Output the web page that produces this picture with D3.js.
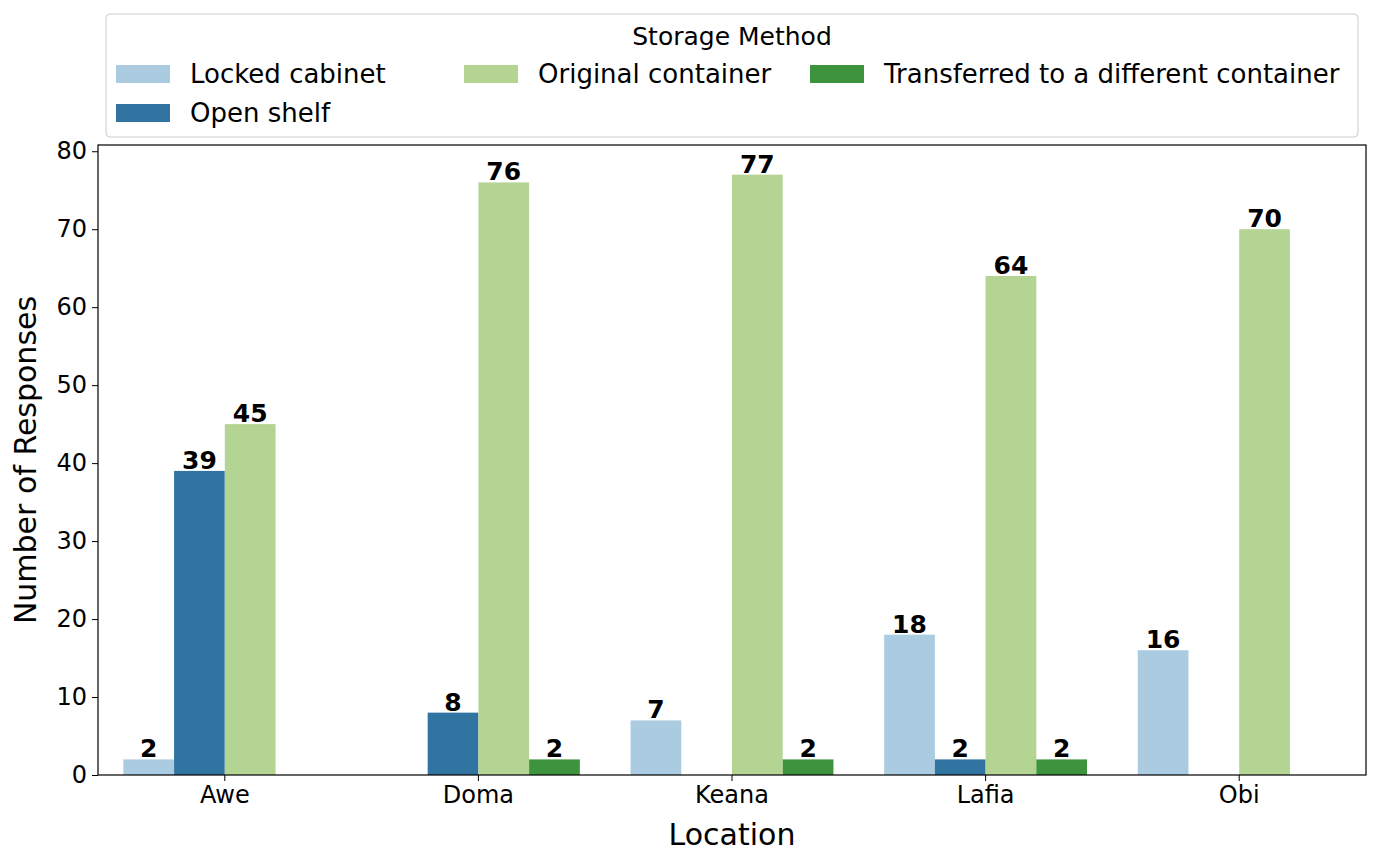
<!DOCTYPE html>
<html><head><meta charset="utf-8">
<script src="https://cdn.jsdelivr.net/npm/d3@7"></script>
<style>body{margin:0;background:#fff}text{font-family:"DejaVu Sans",sans-serif}</style>
</head><body><svg id="c" width="1380" height="865"></svg>
<script>
const locations=["Awe","Doma","Keana","Lafia","Obi"];
const methods=["Locked cabinet","Open shelf","Original container","Transferred to a different container"];
const colors=["#abcbe1","#3274a1","#b4d494","#3e943d"];
const lockedCabinet=[2,0,7,18,16];
const openShelf=[39,8,0,2,0];
const originalContainer=[45,76,77,64,70];
const transferred=[0,2,2,2,0];
const series=[lockedCabinet,openShelf,originalContainer,transferred];
const yTicks=[0,10,20,30,40,50,60,70,80];

const svg=d3.select("#c");
const L=98,R=1366,T=145,B=775;
const x=d3.scaleBand().domain(locations).range([L,R]).paddingInner(0.2).paddingOuter(0.1);
const xs=d3.scaleBand().domain(d3.range(4)).range([0,x.bandwidth()]);
const y=d3.scaleLinear().domain([0,80.8]).range([B,T]);

const g=svg.append("g");
series.forEach((s,i)=>{
  g.selectAll(null).data(locations).enter().append("rect")
   .attr("x",d=>x(d)+xs(i)).attr("width",xs.bandwidth())
   .attr("y",(d,j)=>y(s[j])).attr("height",(d,j)=>B-y(s[j])).attr("fill",colors[i]);
  g.selectAll(null).data(locations.map((d,j)=>({d,v:s[j]})).filter(o=>o.v>0)).enter().append("text")
   .attr("x",o=>x(o.d)+xs(i)+xs.bandwidth()/2).attr("y",o=>y(o.v)-2)
   .attr("text-anchor","middle").style("font-size","25px").attr("font-weight","bold").text(o=>o.v);
});
svg.append("rect").attr("x",L).attr("y",T).attr("width",R-L).attr("height",B-T).attr("fill","none").attr("stroke","#000").attr("stroke-width",1.2);
const ya=svg.append("g").attr("transform",`translate(${L},0)`).call(d3.axisLeft(y).tickValues(yTicks).tickSize(6).tickPadding(5));
ya.select(".domain").remove();
ya.selectAll("text").style("font-size","24px").attr("font-family","DejaVu Sans").attr("fill","#000");
const xa=svg.append("g").attr("transform",`translate(0,${B})`).call(d3.axisBottom(x).tickSize(6).tickPadding(5));
xa.select(".domain").remove();
xa.selectAll("text").style("font-size","24px").attr("font-family","DejaVu Sans").attr("fill","#000");
svg.append("text").attr("x",(L+R)/2).attr("y",845).attr("text-anchor","middle").style("font-size","30px").text("Location");
svg.append("text").attr("transform",`translate(36,${(T+B)/2}) rotate(-90)`).attr("text-anchor","middle").style("font-size","30px").text("Number of Responses");

// legend
svg.append("rect").attr("x",106).attr("y",14).attr("width",1252).attr("height",123).attr("rx",4).attr("fill","#fff").attr("stroke","#ccc");
svg.append("text").attr("x",732).attr("y",45).attr("text-anchor","middle").style("font-size","25px").text("Storage Method");
const pos=[[116,74],[116,113],[464,74],[810,74]];
methods.forEach((m,i)=>{
  const [px,py]=pos[i];
  svg.append("rect").attr("x",px).attr("y",py-9).attr("width",54).attr("height",18).attr("fill",colors[i]);
  svg.append("text").attr("x",px+74).attr("y",py+9).style("font-size","26px").text(m);
});
</script></body></html>
